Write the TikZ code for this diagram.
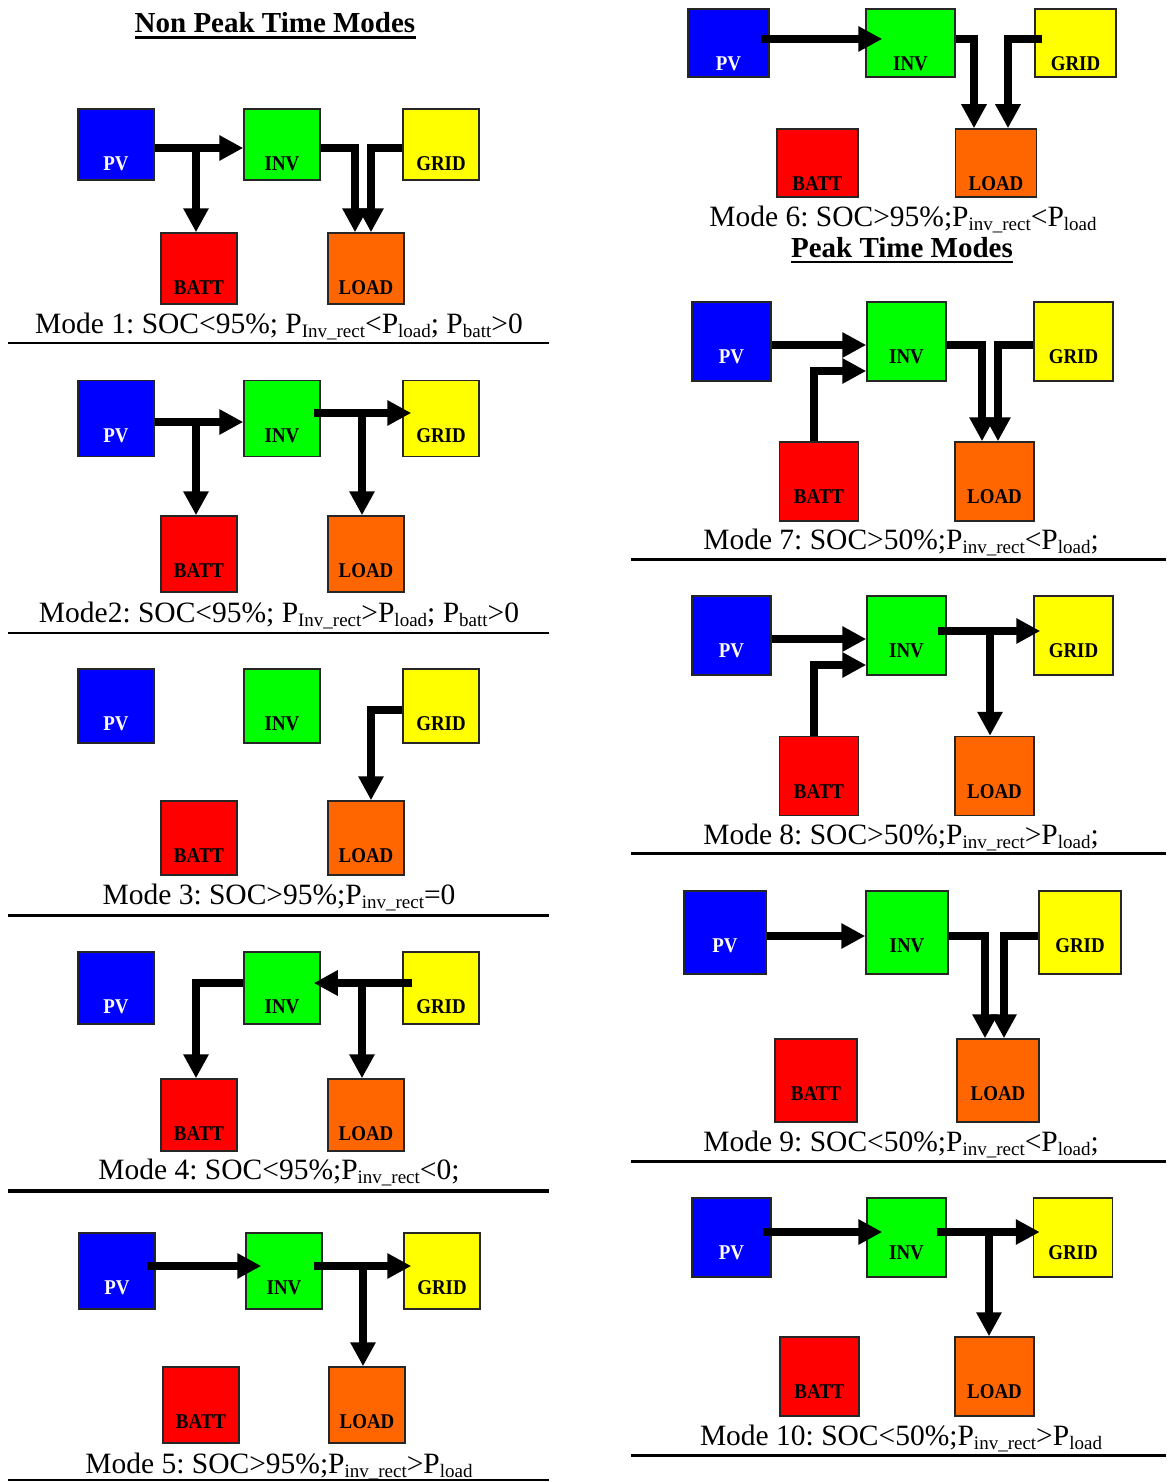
\documentclass[tikz,border=0pt]{standalone}
\usepackage{fontspec}
\setmainfont{Liberation Serif}
\newfontfamily\boxfont[FakeStretch=0.9]{Liberation Serif}
\usepackage{tikz}
\usetikzlibrary{arrows.meta}
\definecolor{pvblue}{RGB}{0,0,255}
\definecolor{invgreen}{RGB}{0,255,0}
\definecolor{gridyellow}{RGB}{255,255,0}
\definecolor{battred}{RGB}{255,0,0}
\definecolor{loadorange}{RGB}{255,102,0}
\newcommand{\psub}[1]{\raisebox{-4pt}{\fontsize{19}{20}\selectfont #1}}
\frenchspacing

\begin{document}
\begin{tikzpicture}[x=1pt, y=-1pt,
    box/.style={draw=black!85, line width=1.5pt, inner sep=0pt, minimum width=76, minimum height=72},
    tag/.style={anchor=base, label distance=-62.5pt, inner sep=0pt, font=\boxfont\bfseries\fontsize{21}{22}\selectfont},
    pvbox/.style={box, fill=pvblue, label={[tag, text=white]90:PV}},
    invbox/.style={box, fill=invgreen, label={[tag]90:INV}},
    gridbox/.style={box, fill=gridyellow, label={[tag]90:GRID}},
    battbox/.style={box, fill=battred, label={[tag]90:BATT}},
    loadbox/.style={box, fill=loadorange, label={[tag]90:LOAD}},
    flow/.style={line width=8pt, line join=miter, -{Triangle[width=24pt,length=24pt]}},
    caption/.style={anchor=base, inner sep=0pt, font=\fontsize{29.5}{34}\selectfont},
    title/.style={anchor=base, inner sep=0pt, font=\bfseries\fontsize{29}{34}\selectfont},
    divider/.style={line width=2.5pt}]
\path[use as bounding box, fill=white] (0,0) rectangle (1168,1482);

% titles
\node[title] (np) at (275,33) {Non Peak Time Modes};
\draw[line width=2.5pt] ([yshift=-4.5pt]np.base west) -- ([yshift=-4.5pt]np.base east);
\node[title] (pk) at (902,257) {Peak Time Modes};
\draw[line width=2.5pt] ([yshift=-5pt]pk.base west) -- ([yshift=-5pt]pk.base east);

% mode 1
\begin{scope}[box/.append style={minimum height=71}]
  \node[pvbox]   (pv1)   at (116,144.5) {};
  \node[invbox]  (inv1)  at (282,144.5) {};
  \node[gridbox] (grid1) at (441,144.5) {};
  \node[battbox] (batt1) at (199,268.5) {};
  \node[loadbox] (load1) at (366,268.5) {};
\end{scope}
\coordinate (j1) at (196,148);
\draw[flow] ([yshift=-3.5pt]pv1.east) -- ([yshift=-3.5pt]inv1.west);
\draw[flow] (j1) -- (j1 |- batt1.north);
\draw[flow] ([yshift=-3.5pt]inv1.east) -| ([xshift=-11pt]load1.north);
\draw[flow] ([yshift=-3.5pt]grid1.west) -| ([xshift=5pt]load1.north);
\node[caption] (c1) at (279,333) {Mode 1: SOC<95\%; P\psub{Inv\_rect}<P\psub{load}; P\psub{batt}>0};
\draw[divider] (8,343) -- (549,343);

% mode 2
\begin{scope}[box/.append style={minimum height=76}]
  \node[pvbox]   (pv2)   at (116,418.5) {};
  \node[invbox]  (inv2)  at (282,418.5) {};
  \node[gridbox] (grid2) at (441,418.5) {};
  \node[battbox] (batt2) at (199,554) {};
  \node[loadbox] (load2) at (366,554) {};
\end{scope}
\coordinate (j2) at (196,422);
\coordinate (k2) at (362,413);
\draw[flow] ([yshift=-3.5pt]pv2.east) -- ([yshift=-3.5pt]inv2.west);
\draw[flow] (j2) -- (j2 |- batt2.north);
\draw[flow] ([xshift=-7pt,yshift=5.5pt]inv2.east) -- ([xshift=9pt,yshift=5.5pt]grid2.west);
\draw[flow] (k2) -- (k2 |- load2.north);
\node[caption] (c2) at (279,622) {Mode2: SOC<95\%; P\psub{Inv\_rect}>P\psub{load}; P\psub{batt}>0};
\draw[divider] (8,633) -- (549,633);

% mode 3
\begin{scope}[box/.append style={minimum height=74}]
  \node[pvbox]   (pv3)   at (116,706) {};
  \node[invbox]  (inv3)  at (282,706) {};
  \node[gridbox] (grid3) at (441,706) {};
  \node[battbox] (batt3) at (199,838) {};
  \node[loadbox] (load3) at (366,838) {};
\end{scope}
\draw[flow] ([yshift=-4pt]grid3.west) -| ([xshift=5pt]load3.north);
\node[caption] (c3) at (279,904) {Mode 3: SOC>95\%;P\psub{inv\_rect}=0};
\draw[line width=3pt] (8,915) -- (549,915);

% mode 4
\begin{scope}[box/.append style={minimum height=72}]
  \node[pvbox]   (pv4)   at (116,988) {};
  \node[invbox]  (inv4)  at (282,988) {};
  \node[gridbox] (grid4) at (441,988) {};
  \node[battbox] (batt4) at (199,1115) {};
  \node[loadbox] (load4) at (366,1115) {};
\end{scope}
\coordinate (k4) at (362,983);
\draw[flow] ([xshift=10pt,yshift=5pt]grid4.west) -- ([xshift=-7pt,yshift=5pt]inv4.east);
\draw[flow] (k4) -- (k4 |- load4.north);
\draw[flow] ([yshift=5pt]inv4.west) -| ([xshift=-3pt]batt4.north);
\node[caption] (c4) at (279,1179) {Mode 4: SOC<95\%;P\psub{inv\_rect}<0;};
\draw[line width=4pt] (8,1191) -- (549,1191);

% mode 5
\begin{scope}[box/.append style={minimum height=76}]
  \node[pvbox]   (pv5)   at (117,1271) {};
  \node[invbox]  (inv5)  at (284,1271) {};
  \node[gridbox] (grid5) at (442,1271) {};
  \node[battbox] (batt5) at (201,1405) {};
  \node[loadbox] (load5) at (367,1405) {};
\end{scope}
\coordinate (k5) at (363,1266);
\draw[flow] ([xshift=-9pt,yshift=5pt]pv5.east) -- ([xshift=16pt,yshift=5pt]inv5.west);
\draw[flow] ([xshift=-9pt,yshift=5pt]inv5.east) -- ([xshift=8pt,yshift=5pt]grid5.west);
\draw[flow] (k5) -- (k5 |- load5.north);
\node[caption] (c5) at (279,1473) {Mode 5: SOC>95\%;P\psub{inv\_rect}>P\psub{load}};
\draw[line width=1.5pt] (8,1480) -- (549,1480);

% mode 6
\begin{scope}[box/.append style={minimum width=81, minimum height=68}]
  \node[pvbox]   (pv6)   at (728.5,43) {};
  \node[invbox, minimum width=89] (inv6) at (910.5,43) {};
  \node[gridbox] (grid6) at (1075.5,43) {};
  \node[battbox] (batt6) at (817.5,163) {};
  \node[loadbox] (load6) at (996,163) {};
\end{scope}
\draw[flow] ([xshift=-9pt,yshift=4pt]pv6.east) -- ([xshift=17pt,yshift=4pt]inv6.west);
\draw[flow] ([yshift=4pt]inv6.east) -| ([xshift=-22pt]load6.north);
\draw[flow] ([xshift=8pt,yshift=4pt]grid6.west) -| ([xshift=12pt]load6.north);
\node[caption] (c6) at (903,226) {Mode 6: SOC>95\%;P\psub{inv\_rect}<P\psub{load}};

% mode 7
\begin{scope}[box/.append style={minimum width=79, minimum height=79}]
  \node[pvbox]   (pv7)   at (731.5,341.5) {};
  \node[invbox]  (inv7)  at (906.5,341.5) {};
  \node[gridbox] (grid7) at (1073.5,341.5) {};
  \node[battbox] (batt7) at (819,481.5) {};
  \node[loadbox] (load7) at (994.5,481.5) {};
\end{scope}
\draw[flow] ([yshift=-3.5pt]pv7.east) -- ([yshift=-3.5pt]inv7.west);
\draw[flow] ([xshift=-5pt]batt7.north) |- ([yshift=-29.5pt]inv7.west);
\draw[flow] ([yshift=-3.5pt]inv7.east) -| ([xshift=-12.5pt]load7.north);
\draw[flow] ([yshift=-3.5pt]grid7.west) -| ([xshift=3.5pt]load7.north);
\node[caption] (c7) at (901,549) {Mode 7: SOC>50\%;P\psub{inv\_rect}<P\psub{load};};
\draw[line width=3pt] (631,559) -- (1166,559);

% mode 8
\begin{scope}[box/.append style={minimum width=79, minimum height=79}]
  \node[pvbox]   (pv8)   at (731.5,635.5) {};
  \node[invbox]  (inv8)  at (906.5,635.5) {};
  \node[gridbox] (grid8) at (1073.5,635.5) {};
  \node[battbox] (batt8) at (819,776) {};
  \node[loadbox] (load8) at (994.5,776) {};
\end{scope}
\coordinate (k8) at (990,631);
\draw[flow] ([yshift=-3.5pt]pv8.east) -- ([yshift=-3.5pt]inv8.west);
\draw[flow] ([xshift=-5pt]batt8.north) |- ([yshift=-29.5pt]inv8.west);
\draw[flow] ([xshift=-9pt,yshift=4.5pt]inv8.east) -- ([xshift=7pt,yshift=4.5pt]grid8.west);
\draw[flow] (k8) -- (k8 |- load8.north);
\node[caption] (c8) at (901,844) {Mode 8: SOC>50\%;P\psub{inv\_rect}>P\psub{load};};
\draw[line width=3pt] (631,853) -- (1166,853);

% mode 9
\begin{scope}[box/.append style={minimum width=82, minimum height=83}]
  \node[pvbox]   (pv9)   at (725,932.5) {};
  \node[invbox]  (inv9)  at (907,932.5) {};
  \node[gridbox] (grid9) at (1080,932.5) {};
  \node[battbox] (batt9) at (816,1080.5) {};
  \node[loadbox] (load9) at (998,1080.5) {};
\end{scope}
\draw[flow] ([yshift=-3.5pt]pv9.east) -- ([yshift=-3.5pt]inv9.west);
\draw[flow] ([yshift=-3.5pt]inv9.east) -| ([xshift=-13pt]load9.north);
\draw[flow] ([yshift=-3.5pt]grid9.west) -| ([xshift=6pt]load9.north);
\node[caption] (c9) at (901,1151) {Mode 9: SOC<50\%;P\psub{inv\_rect}<P\psub{load};};
\draw[line width=3pt] (631,1161) -- (1166,1161);

% mode 10
\begin{scope}[box/.append style={minimum width=79, minimum height=79}]
  \node[pvbox]   (pv10)   at (731.5,1237.5) {};
  \node[invbox]  (inv10)  at (906.5,1237.5) {};
  \node[gridbox] (grid10) at (1073,1237.5) {};
  \node[battbox] (batt10) at (819.5,1376.5) {};
  \node[loadbox] (load10) at (994.5,1376.5) {};
\end{scope}
\coordinate (k10) at (989,1232);
\draw[flow] ([xshift=-9pt,yshift=5.5pt]pv10.east) -- ([xshift=16pt,yshift=5.5pt]inv10.west);
\draw[flow] ([xshift=-10pt,yshift=5.5pt]inv10.east) -- ([xshift=7pt,yshift=5.5pt]grid10.west);
\draw[flow] (k10) -- (k10 |- load10.north);
\node[caption] (c10) at (901,1445) {Mode 10: SOC<50\%;P\psub{inv\_rect}>P\psub{load}};
\draw[line width=3pt] (631,1455) -- (1166,1455);
\end{tikzpicture}
\end{document}
